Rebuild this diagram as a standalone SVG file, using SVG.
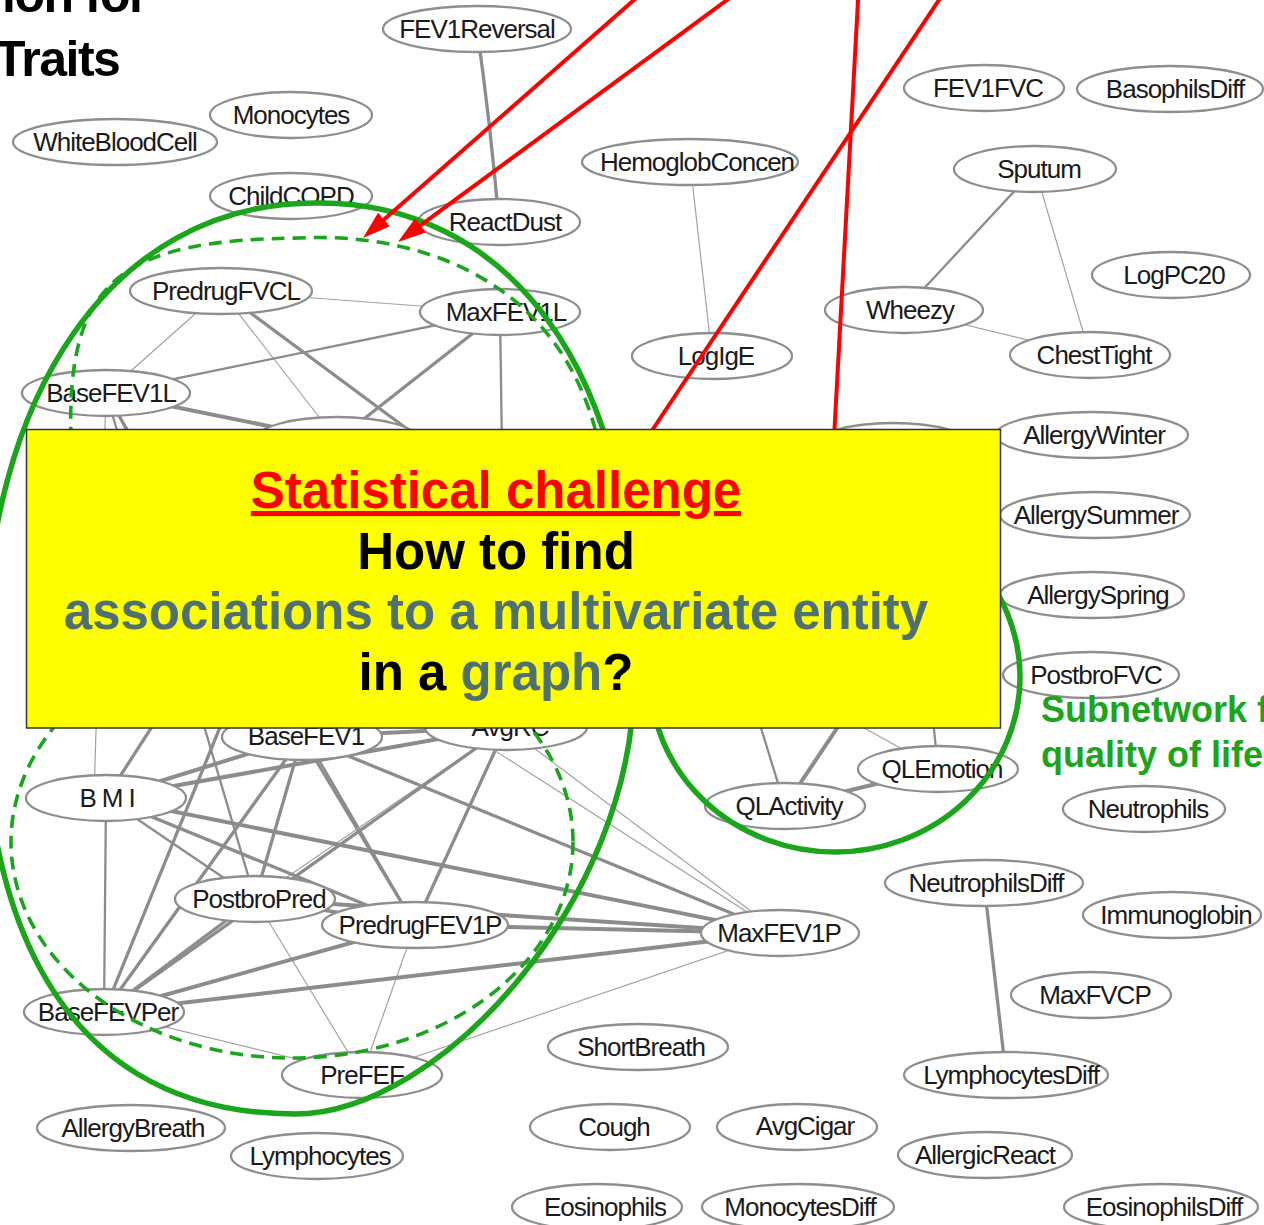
<svg xmlns="http://www.w3.org/2000/svg" width="1264" height="1225" viewBox="0 0 1264 1225">
<defs>
<style>
.n ellipse{fill:#fff;stroke:#8e8e8e;stroke-width:2.3}
.n text{font-family:"Liberation Sans",Arial,sans-serif;font-size:26px;letter-spacing:-1px;fill:#1a1a1a;text-anchor:middle}
.e line,.e path{stroke:#8c8c8c;fill:none;stroke-linecap:round}
.e .w1{stroke-width:1.2;stroke:#a2a2a2}
.e .w2{stroke-width:2.3}
.e .w3{stroke-width:3.3}
.e .w4{stroke-width:4}
.grn{fill:none;stroke:#1ba51b;stroke-width:5.5}
.dash{fill:none;stroke:#1ba51b;stroke-width:3.6;stroke-dasharray:13 8}
.red{stroke:#ff0000;stroke-width:4;fill:none}
.bt{font-family:"Liberation Sans",Arial,sans-serif;font-weight:bold;font-size:51px;text-anchor:middle}
.title{font-family:"Liberation Sans",Arial,sans-serif;font-weight:bold;font-size:50px;fill:#000;letter-spacing:-1.5px}
.gt{font-family:"Liberation Sans",Arial,sans-serif;font-weight:bold;font-size:36px;fill:#1ba51b}
</style>
<marker id="ah" markerUnits="userSpaceOnUse" markerWidth="28" markerHeight="18" refX="22" refY="9" orient="auto"><path d="M0,0 L28,9 L0,18 z" fill="#ff0000"/></marker>
</defs>
<rect x="0" y="0" width="1264" height="1225" fill="#fff"/>

<g id="connectors" class="e">
<path class="w3" d="M477,29 Q490,120 499,222"/>
<line class="w1" x1="690" y1="162" x2="712" y2="356"/>
<line class="w2" x1="1035" y1="169" x2="904" y2="310"/>
<line class="w1" x1="1035" y1="169" x2="1090" y2="355"/>
<line class="w1" x1="904" y1="310" x2="1090" y2="355"/>
<line class="w3" x1="984" y1="883" x2="1006" y2="1075"/>
<line class="w1" x1="221" y1="291" x2="500" y2="312"/>
<line class="w1" x1="221" y1="291" x2="106" y2="393"/>
<line class="w1" x1="221" y1="291" x2="337" y2="440"/>
<line class="w3" x1="221" y1="291" x2="476" y2="480"/>
<line class="w2" x1="106" y1="393" x2="500" y2="312"/>
<line class="w3" x1="500" y1="312" x2="337" y2="440"/>
<line class="w2" x1="500" y1="312" x2="506" y2="727"/>
<line class="w4" x1="106" y1="393" x2="337" y2="440"/>
<line class="w3" x1="106" y1="393" x2="302" y2="737"/>
<line class="w2" x1="106" y1="393" x2="255" y2="899"/>
<line class="w1" x1="106" y1="393" x2="94" y2="798"/>
<line class="w2" x1="106" y1="393" x2="415" y2="925"/>
<line class="w3" x1="337" y1="440" x2="106" y2="798"/>
<line class="w3" x1="337" y1="440" x2="104" y2="1012"/>
<line class="w4" x1="302" y1="737" x2="506" y2="727"/>
<line class="w4" x1="302" y1="737" x2="106" y2="798"/>
<line class="w3" x1="302" y1="737" x2="255" y2="899"/>
<line class="w3" x1="302" y1="737" x2="415" y2="925"/>
<line class="w3" x1="302" y1="737" x2="104" y2="1012"/>
<line class="w3" x1="302" y1="737" x2="780" y2="933"/>
<line class="w4" x1="506" y1="727" x2="106" y2="798"/>
<line class="w1" x1="506" y1="727" x2="255" y2="899"/>
<line class="w3" x1="506" y1="727" x2="415" y2="925"/>
<line class="w3" x1="506" y1="727" x2="104" y2="1012"/>
<line class="w1" x1="506" y1="727" x2="780" y2="933"/>
<line class="w1" x1="400" y1="690" x2="780" y2="933"/>
<line class="w2" x1="106" y1="798" x2="104" y2="1012"/>
<line class="w2" x1="106" y1="798" x2="255" y2="899"/>
<line class="w3" x1="106" y1="798" x2="415" y2="925"/>
<line class="w4" x1="106" y1="798" x2="780" y2="933"/>
<line class="w3" x1="255" y1="899" x2="415" y2="925"/>
<line class="w3" x1="255" y1="899" x2="104" y2="1012"/>
<line class="w1" x1="255" y1="899" x2="362" y2="1075"/>
<line class="w4" x1="255" y1="899" x2="780" y2="933"/>
<line class="w4" x1="415" y1="925" x2="780" y2="933"/>
<line class="w4" x1="415" y1="925" x2="104" y2="1012"/>
<line class="w1" x1="415" y1="925" x2="362" y2="1075"/>
<line class="w4" x1="104" y1="1012" x2="780" y2="933"/>
<line class="w1" x1="104" y1="1012" x2="362" y2="1075"/>
<line class="w1" x1="780" y1="933" x2="362" y2="1075"/>
<line class="w4" x1="785" y1="806" x2="938" y2="769"/>
<line class="w2" x1="734" y1="640" x2="785" y2="806"/>
<line class="w4" x1="896" y1="640" x2="785" y2="806"/>
<line class="w1" x1="760" y1="670" x2="938" y2="769"/>
<line class="w2" x1="925" y1="640" x2="938" y2="769"/>
</g>

<g id="nodes" class="n">
<g id="n-FEV1Reversal"><ellipse cx="477" cy="29" rx="94" ry="23"/><text x="477" y="38">FEV1Reversal</text></g>
<g id="n-Monocytes"><ellipse cx="291" cy="115" rx="81" ry="23"/><text x="291" y="124">Monocytes</text></g>
<g id="n-WhiteBloodCell"><ellipse cx="115" cy="142" rx="102" ry="23"/><text x="115" y="151">WhiteBloodCell</text></g>
<g id="n-ChildCOPD"><ellipse cx="291" cy="196" rx="81" ry="23"/><text x="291" y="205">ChildCOPD</text></g>
<g id="n-ReactDust"><ellipse cx="499" cy="222" rx="81" ry="23"/><text x="505" y="231">ReactDust</text></g>
<g id="n-HemoglobConcen"><ellipse cx="690" cy="162" rx="108" ry="23"/><text x="697" y="171">HemoglobConcen</text></g>
<g id="n-FEV1FVC"><ellipse cx="984" cy="88" rx="80" ry="23"/><text x="988" y="97">FEV1FVC</text></g>
<g id="n-BasophilsDiff"><ellipse cx="1170" cy="89" rx="93" ry="23"/><text x="1175" y="98">BasophilsDiff</text></g>
<g id="n-Sputum"><ellipse cx="1035" cy="169" rx="81" ry="23"/><text x="1039" y="178">Sputum</text></g>
<g id="n-LogPC20"><ellipse cx="1171" cy="275" rx="79" ry="23"/><text x="1174" y="284">LogPC20</text></g>
<g id="n-Wheezy"><ellipse cx="904" cy="310" rx="79" ry="23"/><text x="910" y="319">Wheezy</text></g>
<g id="n-ChestTight"><ellipse cx="1090" cy="355" rx="80" ry="23"/><text x="1094" y="364">ChestTight</text></g>
<g id="n-LogIgE"><ellipse cx="712" cy="356" rx="80" ry="23"/><text x="716" y="365">LogIgE</text></g>
<g id="n-PredrugFVCL"><ellipse cx="221" cy="291" rx="91" ry="23"/><text x="226" y="300">PredrugFVCL</text></g>
<g id="n-MaxFEV1L"><ellipse cx="500" cy="312" rx="80" ry="23"/><text x="506" y="321">MaxFEV1L</text></g>
<g id="n-BaseFEV1L"><ellipse cx="106" cy="393" rx="84" ry="23"/><text x="111" y="402">BaseFEV1L</text></g>
<g id="n-hidden1"><ellipse cx="337" cy="440" rx="82" ry="23"/></g>
<g id="n-hidden2"><ellipse cx="893" cy="446" rx="80" ry="23"/></g>
<g id="n-AllergyWinter"><ellipse cx="1092" cy="435" rx="96" ry="23"/><text x="1094" y="444">AllergyWinter</text></g>
<g id="n-AllergySummer"><ellipse cx="1095" cy="515" rx="95" ry="23"/><text x="1096" y="524">AllergySummer</text></g>
<g id="n-AllergySpring"><ellipse cx="1092" cy="595" rx="92" ry="23"/><text x="1098" y="604">AllergySpring</text></g>
<g id="n-PostbroFVC"><ellipse cx="1091" cy="675" rx="88" ry="23"/><text x="1096" y="684">PostbroFVC</text></g>
<g id="n-QLEmotion"><ellipse cx="938" cy="769" rx="80" ry="23"/><text x="942" y="778">QLEmotion</text></g>
<g id="n-QLActivity"><ellipse cx="785" cy="806" rx="80" ry="23"/><text x="789" y="815">QLActivity</text></g>
<g id="n-Neutrophils"><ellipse cx="1144" cy="809" rx="81" ry="23"/><text x="1148" y="818">Neutrophils</text></g>
<g id="n-BaseFEV1"><ellipse cx="302" cy="737" rx="80" ry="23"/><text x="306" y="745">BaseFEV1</text></g>
<g id="n-AvgRC"><ellipse cx="506" cy="727" rx="81" ry="23"/><text x="510" y="736">AvgRC</text></g>
<g id="n-BMI"><ellipse cx="106" cy="798" rx="80" ry="23"/><text x="110" y="807" style="letter-spacing:5px">BMI</text></g>
<g id="n-PostbroPred"><ellipse cx="255" cy="899" rx="80" ry="23"/><text x="259" y="908">PostbroPred</text></g>
<g id="n-PredrugFEV1P"><ellipse cx="415" cy="925" rx="93" ry="23"/><text x="420" y="934">PredrugFEV1P</text></g>
<g id="n-MaxFEV1P"><ellipse cx="780" cy="933" rx="79" ry="23"/><text x="779" y="942">MaxFEV1P</text></g>
<g id="n-BaseFEVPer"><ellipse cx="104" cy="1012" rx="80" ry="23"/><text x="108" y="1021">BaseFEVPer</text></g>
<g id="n-PreFEF"><ellipse cx="362" cy="1075" rx="80" ry="23"/><text x="362" y="1084">PreFEF</text></g>
<g id="n-ShortBreath"><ellipse cx="638" cy="1047" rx="90" ry="23"/><text x="641" y="1056">ShortBreath</text></g>
<g id="n-NeutrophilsDiff"><ellipse cx="984" cy="883" rx="99" ry="23"/><text x="986" y="892">NeutrophilsDiff</text></g>
<g id="n-Immunoglobin"><ellipse cx="1172" cy="915" rx="89" ry="23"/><text x="1176" y="924">Immunoglobin</text></g>
<g id="n-MaxFVCP"><ellipse cx="1091" cy="995" rx="80" ry="23"/><text x="1095" y="1004">MaxFVCP</text></g>
<g id="n-LymphocytesDiff"><ellipse cx="1006" cy="1075" rx="102" ry="23"/><text x="1011" y="1084">LymphocytesDiff</text></g>
<g id="n-AllergyBreath"><ellipse cx="131" cy="1128" rx="94" ry="23"/><text x="133" y="1137">AllergyBreath</text></g>
<g id="n-Lymphocytes"><ellipse cx="317" cy="1156" rx="86" ry="23"/><text x="320" y="1165">Lymphocytes</text></g>
<g id="n-Cough"><ellipse cx="610" cy="1127" rx="80" ry="23"/><text x="614" y="1136">Cough</text></g>
<g id="n-AvgCigar"><ellipse cx="797" cy="1127" rx="80" ry="23"/><text x="805" y="1135">AvgCigar</text></g>
<g id="n-AllergicReact"><ellipse cx="985" cy="1155" rx="87" ry="23"/><text x="985" y="1164">AllergicReact</text></g>
<g id="n-Eosinophils"><ellipse cx="597" cy="1207" rx="85" ry="23"/><text x="605" y="1216">Eosinophils</text></g>
<g id="n-MonocytesDiff"><ellipse cx="798" cy="1207" rx="96" ry="23"/><text x="800" y="1216">MonocytesDiff</text></g>
<g id="n-EosinophilsDiff"><ellipse cx="1161" cy="1207" rx="97" ry="23"/><text x="1164" y="1216">EosinophilsDiff</text></g>
</g>

<g id="subnetworks">
<path class="grn" d="M315,203 C500,200 645,360 634,680 C634,900 440,1114 295,1114 C40,1114 -25,880 -15,660 C-15,400 110,203 315,203 Z"/>
<path class="dash" d="M71,440 C66,280 120,240 300,238 C420,232 560,280 598,440"/>
<ellipse class="dash" cx="292" cy="842" rx="281" ry="216"/>
<ellipse class="grn" cx="835" cy="677" rx="185" ry="175"/>
</g>

<g id="pointers" class="red">
<line x1="639.7" y1="-5" x2="367.5" y2="234" marker-end="url(#ah)"/>
<line x1="733.8" y1="-5" x2="402.8" y2="238.4" marker-end="url(#ah)"/>
<line x1="858.3" y1="-5" x2="831.7" y2="480" marker-end="url(#ah)"/>
<line x1="942.3" y1="-5" x2="619" y2="480" marker-end="url(#ah)"/>
</g>

<g id="challenge-box">
<rect x="26.5" y="429.5" width="974" height="298.5" fill="#ffff00" stroke="#333" stroke-width="1.5"/>
<text class="bt" x="496" y="508" fill="#ff0000" text-decoration="underline">Statistical challenge</text>
<text class="bt" x="496" y="569" fill="#000">How to find</text>
<text class="bt" x="496" y="629" fill="#4e7070">associations to a multivariate entity</text>
<text class="bt" x="496" y="690" fill="#000">in a <tspan fill="#4e7070">graph</tspan>?</text>
</g>

<g id="labels">
<text class="title" x="2" y="12">ion for</text>
<text class="title" x="-5" y="76">Traits</text>
<text class="gt" x="1041" y="722">Subnetwork for</text>
<text class="gt" x="1041" y="767">quality of life</text>
</g>
</svg>
